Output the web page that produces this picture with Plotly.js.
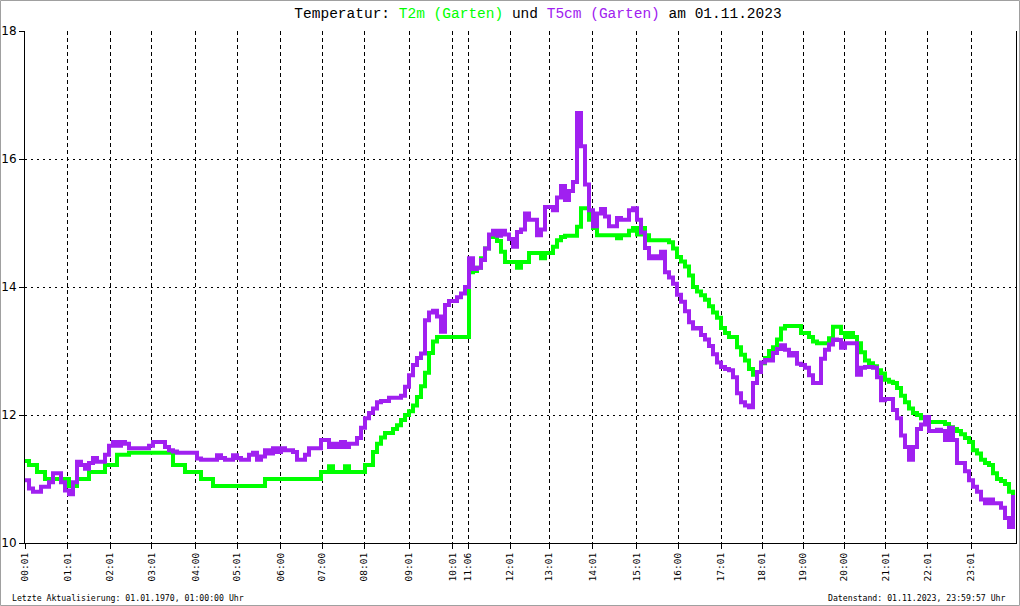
<!DOCTYPE html>
<html>
<head>
<meta charset="utf-8">
<script src="https://cdn.plot.ly/plotly-3.0.1.min.js"></script>
<style>
html,body{margin:0;padding:0;background:#fff;}
#chart{width:1020px;height:606px;}
</style>
</head>
<body>
<div id="chart"></div>
<script>
// Sample index ticks (irregular time stamps of the logger)
const tickPos = [0, 10.7, 21.25, 31.7, 42.7, 53.1, 63.9, 74.25, 84.8, 96, 106.9, 110.8, 121.25, 131.1, 141.9, 152.9, 163.3, 174, 184.3, 194.6, 204.75, 215.2, 225.7, 236.5];
const tickLabels = ["00:01","01:01","02:01","03:01","04:00","05:01","06:00","07:00","08:01","09:01","10:01","11:06","12:01","13:01","14:01","15:01","16:00","17:01","18:01","19:00","20:00","21:01","22:01","23:01"];

// T2m (Garten), °C
const t2m = [
11.28,11.22,11.22,11.11,11.11,11.0,11.0,11.0,11.0,11.0,
11.0,10.89,10.89,11.0,11.0,11.0,11.11,11.11,11.11,11.11,
11.22,11.22,11.22,11.38,11.38,11.38,11.41,11.41,11.41,11.41,
11.41,11.41,11.41,11.41,11.41,11.41,11.41,11.22,11.22,11.22,
11.11,11.11,11.11,11.11,11.0,11.0,11.0,10.89,10.89,10.89,
10.89,10.89,10.89,10.89,10.89,10.89,10.89,10.89,10.89,10.89,
11.0,11.0,11.0,11.0,11.0,11.0,11.0,11.0,11.0,11.0,
11.0,11.0,11.0,11.0,11.11,11.11,11.2,11.11,11.11,11.11,
11.2,11.11,11.11,11.11,11.11,11.22,11.22,11.42,11.55,11.65,
11.72,11.72,11.78,11.84,11.92,12.0,12.06,12.15,12.28,12.45,
12.66,12.97,13.15,13.22,13.22,13.22,13.22,13.22,13.22,13.22,
13.22,14.23,14.25,14.3,14.45,14.6,14.78,14.8,14.72,14.55,
14.39,14.39,14.39,14.3,14.39,14.39,14.53,14.53,14.53,14.45,
14.53,14.53,14.63,14.73,14.78,14.8,14.8,14.8,14.94,15.23,
15.23,15.05,14.92,14.81,14.81,14.81,14.81,14.81,14.76,14.81,
14.81,14.88,14.92,14.82,14.92,14.81,14.73,14.73,14.73,14.73,
14.73,14.7,14.6,14.47,14.4,14.32,14.18,14.0,13.93,13.87,
13.8,13.7,13.6,13.52,13.36,13.28,13.22,13.22,13.06,12.94,
12.85,12.72,12.63,12.67,12.81,12.89,13.0,13.06,13.18,13.35,
13.39,13.39,13.39,13.39,13.28,13.28,13.22,13.15,13.12,13.12,
13.12,13.2,13.38,13.38,13.28,13.22,13.28,13.22,13.12,12.98,
12.85,12.81,12.76,12.7,12.65,12.55,12.52,12.5,12.42,12.3,
12.2,12.1,12.03,12.0,11.95,11.89,11.89,11.89,11.89,11.89,
11.86,11.81,11.78,11.75,11.7,11.64,11.58,11.45,11.4,11.3,
11.25,11.22,11.09,11.0,10.97,10.92,10.8,10.65
];

// T5cm (Garten), °C
const t5cm = [
10.98,10.85,10.8,10.8,10.88,10.88,10.95,11.09,11.09,10.95,
10.82,10.76,10.95,11.27,11.22,11.16,11.25,11.33,11.27,11.27,
11.38,11.52,11.58,11.52,11.58,11.55,11.48,11.48,11.48,11.48,
11.48,11.52,11.58,11.58,11.58,11.5,11.45,11.43,11.41,11.41,
11.41,11.41,11.41,11.32,11.3,11.3,11.3,11.3,11.37,11.33,
11.3,11.3,11.37,11.33,11.3,11.3,11.38,11.41,11.3,11.35,
11.45,11.4,11.48,11.42,11.48,11.45,11.45,11.42,11.3,11.3,
11.38,11.48,11.48,11.48,11.61,11.61,11.5,11.55,11.5,11.58,
11.5,11.55,11.55,11.64,11.8,11.95,12.03,12.1,12.2,12.22,
12.22,12.27,12.27,12.27,12.3,12.44,12.62,12.78,12.89,12.96,
13.48,13.6,13.63,13.54,13.3,13.72,13.78,13.78,13.84,13.9,
14.0,14.45,14.28,14.3,14.42,14.6,14.82,14.88,14.8,14.88,
14.82,14.75,14.63,14.86,14.9,15.15,15.05,15.05,14.81,14.9,
15.25,15.25,15.2,15.4,15.58,15.36,15.5,15.64,16.72,16.2,
15.6,15.2,14.95,15.15,15.22,15.1,14.95,14.95,15.08,15.05,
15.05,15.2,15.23,15.05,14.85,14.61,14.45,14.48,14.45,14.55,
14.23,14.15,14.05,13.88,13.77,13.62,13.45,13.35,13.36,13.25,
13.18,13.08,12.95,12.82,12.75,12.72,12.7,12.59,12.34,12.2,
12.15,12.12,12.5,12.67,12.82,12.86,12.85,12.97,13.03,13.09,
13.02,12.93,12.97,12.8,12.78,12.74,12.62,12.5,12.5,12.88,
13.02,13.1,13.18,13.17,13.05,13.12,13.12,13.12,12.63,12.74,
12.75,12.75,12.74,12.59,12.23,12.25,12.25,12.08,11.95,11.68,
11.5,11.3,11.5,11.78,11.85,11.97,11.75,11.75,11.77,11.75,
11.61,11.8,11.61,11.25,11.25,11.12,10.98,10.88,10.8,10.68,
10.62,10.68,10.62,10.62,10.55,10.39,10.25,10.75
];

const yTicks = [10, 12, 14, 16, 18];
const footerLeft = "Letzte Aktualisierung: 01.01.1970, 01:00:00 Uhr";
const footerRight = "Datenstand: 01.11.2023, 23:59:57 Uhr";

const idx = t2m.map((_, i) => i);

const traces = [
  {x: idx, y: t2m, type: 'scatter', mode: 'lines', line: {color: '#00ff00', width: 4, shape: 'hv'}, hoverinfo: 'skip'},
  {x: idx, y: t5cm, type: 'scatter', mode: 'lines', line: {color: '#a020f0', width: 4, shape: 'hv'}, hoverinfo: 'skip'}
];

const PW = 991, PH = 512, ML = 25, MT = 31;
const layout = {
  width: 1020, height: 606,
  margin: {l: ML, r: 4, t: MT, b: 63, pad: 0},
  paper_bgcolor: '#ffffff', plot_bgcolor: '#ffffff',
  showlegend: false,
  title: {
    text: "Temperatur: <span style='color:#00ff00'>T2m (Garten)</span> und <span style='color:#a020f0'>T5cm (Garten)</span> am 01.11.2023",
    font: {family: 'Liberation Mono, DejaVu Sans Mono, monospace', size: 14.5, color: '#000'},
    xref: 'container', x: 538/1020, xanchor: 'center',
    yref: 'container', y: 1 - 13/606, yanchor: 'middle'
  },
  xaxis: {
    range: [0, PW/4], fixedrange: true,
    tickmode: 'array', tickvals: tickPos, ticktext: tickLabels,
    tickangle: -90, ticks: 'outside', ticklen: 5, tickcolor: '#000', tickwidth: 1,
    tickfont: {family: 'DejaVu Sans Mono, monospace', size: 9.5, color: '#000'},
    showline: true, linecolor: '#000', linewidth: 1,
    showgrid: true, gridcolor: '#000', gridwidth: 1, griddash: '4px,3px',
    zeroline: false
  },
  yaxis: {
    range: [10, 18], fixedrange: true,
    tickmode: 'array', tickvals: yTicks, ticktext: yTicks.map(String),
    ticks: 'outside', ticklen: 5, tickcolor: '#000', tickwidth: 1,
    tickfont: {family: 'DejaVu Sans, sans-serif', size: 12, color: '#000'},
    showline: true, mirror: true, linecolor: '#000', linewidth: 1,
    showgrid: true, gridcolor: '#000', gridwidth: 1, griddash: '2px,4px',
    zeroline: false
  },
  shapes: [{
    type: 'rect', xref: 'paper', yref: 'paper',
    x0: (0.5 - ML)/PW, x1: (1019.5 - ML)/PW,
    y0: (MT + PH - 605.5)/PH, y1: (MT + PH - 0.5)/PH,
    line: {color: '#a0a0a0', width: 1}, fillcolor: 'rgba(0,0,0,0)', layer: 'above'
  }],
  annotations: [
    {text: footerLeft, xref: 'paper', yref: 'paper', x: (10 - ML)/PW, y: (MT + PH - 598)/PH,
     xanchor: 'left', yanchor: 'middle', showarrow: false,
     font: {family: 'DejaVu Sans Mono, monospace', size: 8.2, color: '#000'}},
    {text: footerRight, xref: 'paper', yref: 'paper', x: (1008 - ML)/PW, y: (MT + PH - 598)/PH,
     xanchor: 'right', yanchor: 'middle', showarrow: false,
     font: {family: 'DejaVu Sans Mono, monospace', size: 8.2, color: '#000'}}
  ]
};

Plotly.newPlot('chart', traces, layout, {displayModeBar: false, staticPlot: true});
</script>
</body>
</html>
